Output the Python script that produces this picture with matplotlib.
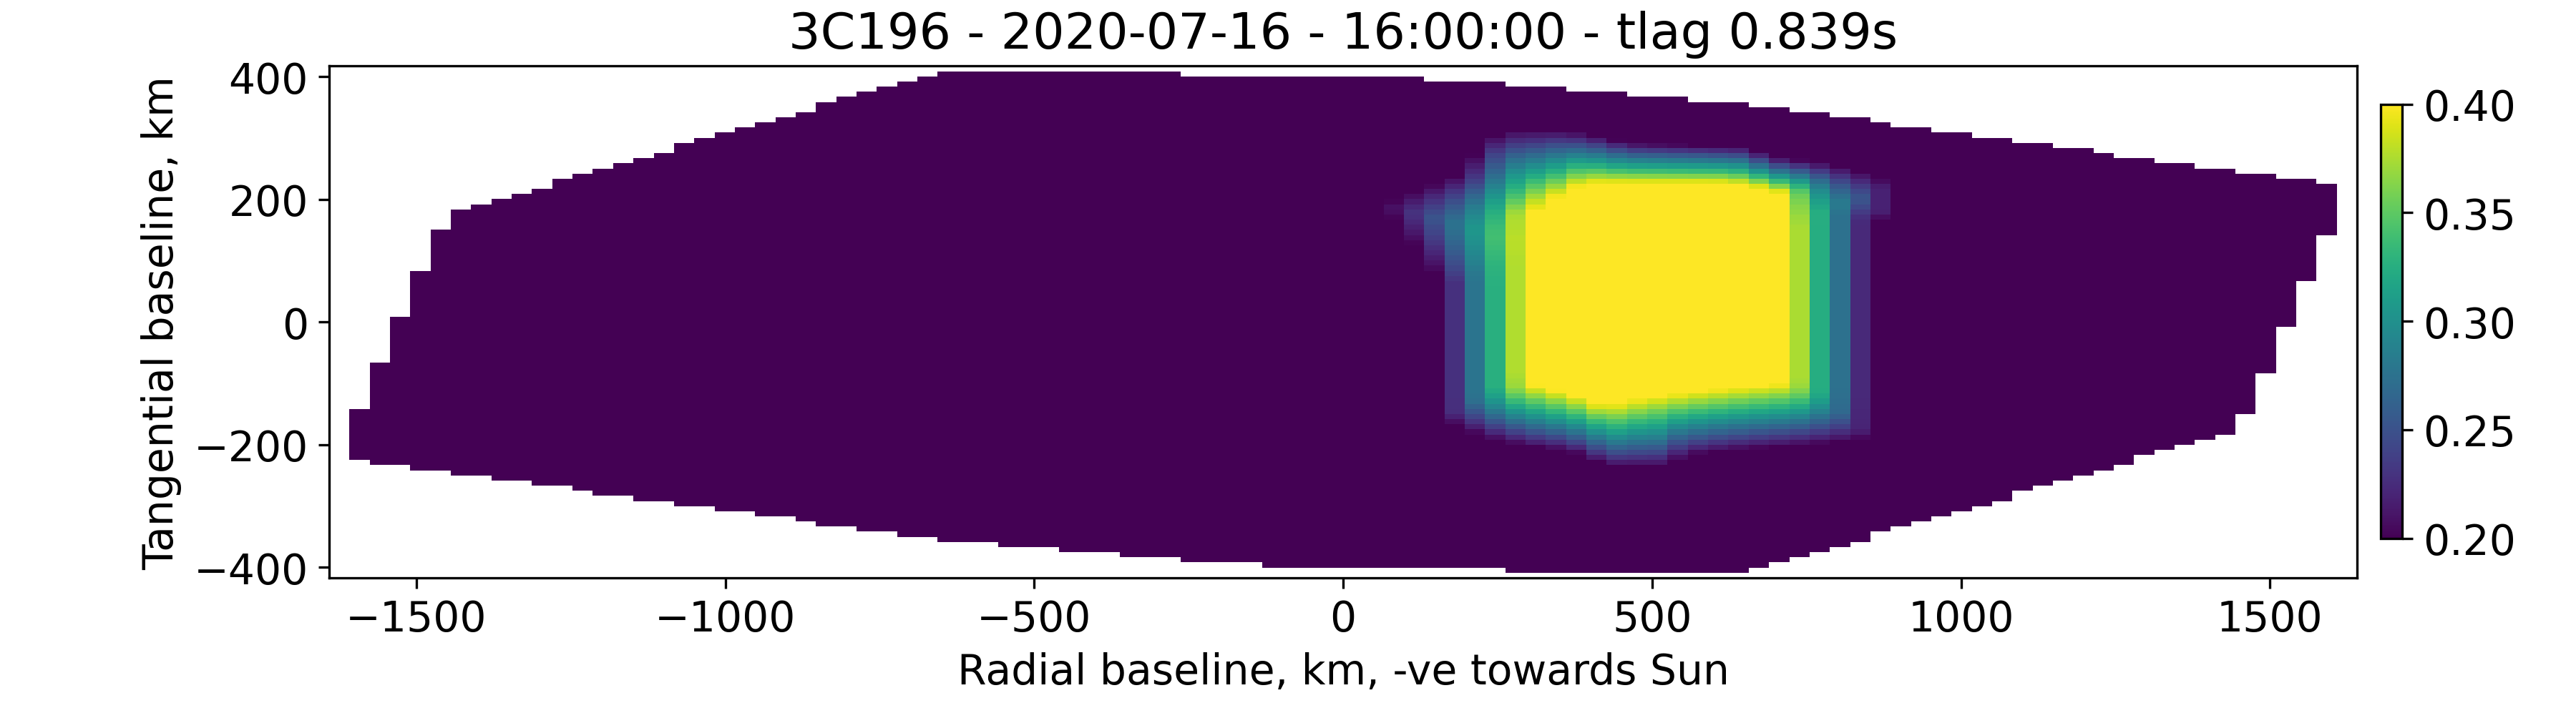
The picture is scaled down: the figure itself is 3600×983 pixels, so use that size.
import numpy as np
import matplotlib
matplotlib.use('Agg')
import matplotlib.pyplot as plt
from matplotlib.path import Path

plt.rcParams['font.size'] = 14

# map grid (km), 100 x 100 cells
x_lim = 1641
y_lim = 417
n_cols = 100
n_rows = 100

# covered region: highest and lowest filled row for columns 1..98
top_row = [32, 41, 50, 59, 67, 71, 72, 73, 74, 75, 77, 78, 79, 80, 81, 82, 84, 85, 86, 87,
           88, 89, 90, 92, 93, 94, 95, 96, 97, 98, 98, 98, 98, 98, 98, 98, 98, 98, 98, 98,
           98, 97, 97, 97, 97, 97, 97, 97, 97, 97, 97, 97, 97, 96, 96, 96, 96, 95, 95, 95,
           94, 94, 94, 93, 93, 93, 92, 92, 92, 91, 91, 90, 90, 89, 89, 88, 87, 87, 86, 86,
           85, 85, 84, 84, 83, 83, 82, 81, 81, 80, 80, 79, 79, 78, 78, 77, 77, 76]
bottom_row = [23, 22, 22, 21, 21, 20, 20, 19, 19, 18, 18, 17, 16, 16, 15, 15, 14, 14, 13, 13,
              12, 12, 11, 10, 10, 9, 9, 8, 8, 7, 7, 7, 6, 6, 6, 5, 5, 5, 4, 4,
              4, 3, 3, 3, 3, 2, 2, 2, 2, 2, 2, 2, 2, 2, 2, 2, 2, 1, 1, 1,
              1, 1, 1, 1, 1, 1, 1, 1, 1, 2, 3, 4, 5, 6, 7, 9, 10, 11, 12, 13,
              14, 15, 17, 18, 19, 20, 21, 22, 24, 25, 26, 27, 28, 32, 40, 49, 58, 67]

# bright region (value >= 0.40), km
core_x = [295, 295, 330, 360, 390, 625, 690, 722, 722, 655, 560, 460, 425, 390, 330]
core_y = [-100, 170, 195, 210, 226, 226, 215, 205, -100, -106, -115, -128, -138, -125, -108]

# where the halo fades back to the 0.20 floor, km
outer_x = [64, 128, 162, 195, 228, 260, 360, 430, 460, 650, 700, 785, 850, 885, 885, 852, 852,
           818, 720, 620, 555, 523, 424, 391, 358, 293, 260, 228, 195, 162, 162, 128, 96]
outer_y = [190, 218, 228, 245, 295, 312, 312, 300, 292, 285, 268, 258, 242, 228, 170, 160, -188,
           -195, -203, -210, -218, -237, -237, -218, -210, -203, -195, -188, -175, -160, 60, 110, 150]

# halo profile: fraction of the way out -> value
ramp_t = [0.0, 0.2, 0.5, 0.8, 1.0]
ramp_v = [0.40, 0.36, 0.30, 0.24, 0.20]

x_edges = np.linspace(-x_lim, x_lim, n_cols + 1)
y_edges = np.linspace(-y_lim, y_lim, n_rows + 1)
xc = 0.5 * (x_edges[1:] + x_edges[:-1])
yc = 0.5 * (y_edges[1:] + y_edges[:-1])
X, Y = np.meshgrid(xc, yc)


def edge_dist(px, py, xs, ys):
    # distance from every cell centre to the polygon outline
    d = np.full(px.shape, np.inf)
    n = len(xs)
    for i in range(n):
        x1, y1 = xs[i], ys[i]
        x2, y2 = xs[(i + 1) % n], ys[(i + 1) % n]
        dx, dy = x2 - x1, y2 - y1
        s = ((px - x1) * dx + (py - y1) * dy) / (dx * dx + dy * dy)
        s = np.clip(s, 0, 1)
        d = np.minimum(d, np.hypot(px - (x1 + s * dx), py - (y1 + s * dy)))
    return d


pts = np.column_stack([X.ravel(), Y.ravel()])
in_core = Path(np.column_stack([core_x, core_y])).contains_points(pts).reshape(X.shape)
in_outer = Path(np.column_stack([outer_x, outer_y])).contains_points(pts).reshape(X.shape)

d_core = edge_dist(X, Y, core_x, core_y)
d_out = edge_dist(X, Y, outer_x, outer_y)
t = d_core / (d_core + d_out + 1e-9)
t[in_core] = 0.0
t[~in_outer] = 1.0
vals = np.interp(t, ramp_t, ramp_v)

# mask everything outside the covered region
inside = np.zeros(vals.shape, dtype=bool)
for i, (lo, hi) in enumerate(zip(bottom_row, top_row)):
    inside[lo:hi + 1, i + 1] = True
Z = np.ma.masked_where(~inside, vals)

fig = plt.figure(figsize=(12, 3.28), dpi=300)
ax = fig.add_axes([0.1278, 0.178, 0.7872, 0.727])
mesh = ax.pcolormesh(x_edges, y_edges, Z, cmap='viridis', vmin=0.2, vmax=0.4)
ax.set_xlim(-x_lim, x_lim)
ax.set_ylim(-y_lim, y_lim)
ax.set_yticks([-400, -200, 0, 200, 400])
ax.set_xlabel('Radial baseline, km, -ve towards Sun')
ax.set_ylabel('Tangential baseline, km')
ax.set_title('3C196 - 2020-07-16 - 16:00:00 - tlag 0.839s')

cax = fig.add_axes([0.9242, 0.234, 0.0083, 0.617])
cb = fig.colorbar(mesh, cax=cax)
cb.set_ticks([0.20, 0.25, 0.30, 0.35, 0.40])

fig.savefig('out.png', dpi=300)
